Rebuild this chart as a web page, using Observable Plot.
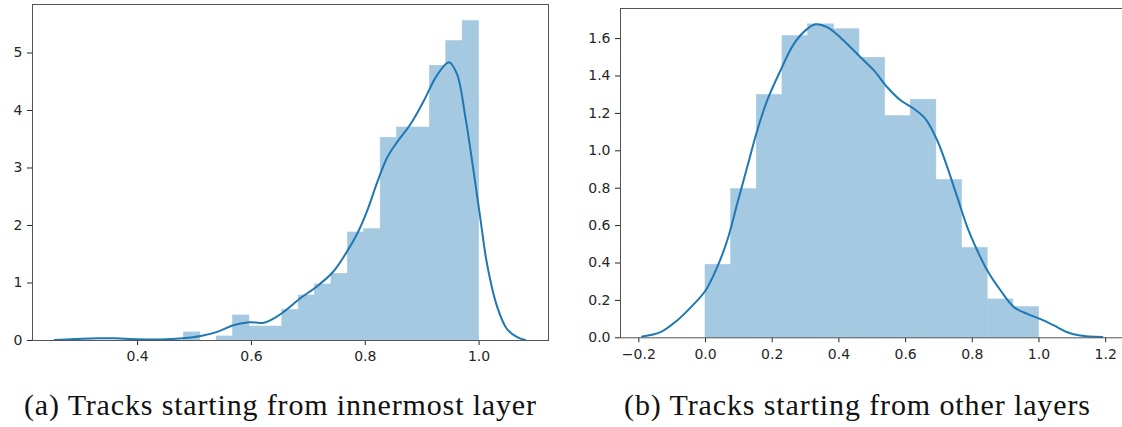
<!DOCTYPE html>
<html>
<head>
<meta charset="utf-8">
<script src="https://cdn.jsdelivr.net/npm/d3@7"></script>
<script src="https://cdn.jsdelivr.net/npm/@observablehq/plot@0.6"></script>
<style>
  html, body { margin: 0; padding: 0; background: #fff; }
  #page { position: relative; width: 1122px; height: 427px; overflow: hidden; background: #fff; }
  #page > svg { position: absolute; top: 0; }
  .caption { font-family: "Liberation Serif", "DejaVu Serif", serif; font-size: 30px; fill: #111; }
</style>
</head>
<body>
<div id="page"></div>
<script>
// (a) tracks from the innermost layer: histogram bin edges and densities
const innerEdges = [0.4812, 0.5100, 0.5389, 0.5677, 0.5965, 0.6253, 0.6542, 0.6830, 0.7118, 0.7406,
                    0.7694, 0.7983, 0.8271, 0.8559, 0.8847, 0.9135, 0.9424, 0.9712, 1.0];
const innerDensity = [0.14, 0, 0.07, 0.435, 0.243, 0.243, 0.533, 0.783, 0.974, 1.159,
                      1.878, 1.936, 3.525, 3.704, 3.704, 4.777, 5.206, 5.554];
// kernel density estimate for (a)
const innerKdeX = [0.254, 0.29, 0.33, 0.36, 0.40, 0.44, 0.48, 0.511, 0.54, 0.5695, 0.593, 0.622, 0.637, 0.657,
                   0.6865, 0.715, 0.744, 0.77, 0.786, 0.8035, 0.821, 0.839, 0.856, 0.88, 0.903, 0.926,
                   0.947, 0.961, 0.976, 0.991, 1.002, 1.014, 1.032, 1.049, 1.067, 1.081];
const innerKdeY = [0.01, 0.025, 0.04, 0.038, 0.02, 0.017, 0.04, 0.08, 0.15, 0.27, 0.315, 0.31, 0.37, 0.5,
                   0.74, 0.94, 1.2, 1.58, 1.86, 2.26, 2.75, 3.19, 3.45, 3.77, 4.17, 4.61,
                   4.84, 4.64, 3.88, 2.90, 2.14, 1.33, 0.58, 0.20, 0.06, 0.01];

// (b) tracks from the other layers: histogram bin edges and densities
const otherEdges = [0, 0.0769, 0.1538, 0.2308, 0.3077, 0.3846, 0.4615, 0.5385, 0.6154, 0.6923,
                    0.7692, 0.8462, 0.9231, 1.0];
const otherDensity = [0.39, 0.795, 1.298, 1.613, 1.676, 1.65, 1.497, 1.185, 1.273, 0.843, 0.48, 0.205, 0.164];
// kernel density estimate for (b)
const otherKdeX = [-0.19, -0.135, -0.085, -0.035, 0.0, 0.035, 0.065, 0.095, 0.125, 0.155, 0.185, 0.225,
                   0.265, 0.305, 0.33, 0.365, 0.405, 0.465, 0.505, 0.545, 0.585, 0.625, 0.66, 0.695,
                   0.725, 0.755, 0.785, 0.815, 0.845, 0.885, 0.925, 0.965, 1.005, 1.045, 1.085, 1.124, 1.19];
const otherKdeY = [0.007, 0.03, 0.093, 0.18, 0.253, 0.378, 0.52, 0.717, 0.913, 1.109, 1.27, 1.43,
                   1.572, 1.652, 1.677, 1.661, 1.605, 1.50, 1.43, 1.34, 1.27, 1.225, 1.17, 1.055,
                   0.913, 0.752, 0.592, 0.467, 0.36, 0.253, 0.164, 0.128, 0.10, 0.066, 0.03, 0.012, 0.004];

// tick values
const innerXTicks = [0.4, 0.6, 0.8, 1.0];
const innerYTicks = [0, 1, 2, 3, 4, 5];
const otherXTicks = [-0.2, 0.0, 0.2, 0.4, 0.6, 0.8, 1.0, 1.2];
const otherYTicks = [0.0, 0.2, 0.4, 0.6, 0.8, 1.0, 1.2, 1.4, 1.6];

const captions = ["(a) Tracks starting from innermost layer", "(b) Tracks starting from other layers"];

const barFill = "#a5c9e1";
const lineColor = "#1f77b4";

function bins(edges, density) {
  return density.map((d, i) => ({x1: edges[i], x2: edges[i + 1], y: d}));
}
function curve(xs, ys) {
  return xs.map((x, i) => ({x, y: ys[i]}));
}

function panel({edges, density, kx, ky, xDomain, yDomain, xTicks, yTicks, yFormat,
                width, height, margins}) {
  return Plot.plot({
    width, height,
    marginLeft: margins[0], marginRight: margins[1], marginTop: margins[2], marginBottom: margins[3],
    style: {fontFamily: "DejaVu Sans, sans-serif", fontSize: "14px", color: "#262626", background: "transparent", overflow: "visible"},
    x: {domain: xDomain, ticks: xTicks, tickFormat: d3.format(".1f"), tickSize: 5, tickPadding: 6, label: null},
    y: {domain: yDomain, ticks: yTicks, tickFormat: yFormat, tickSize: 5, tickPadding: 5, label: null},
    marks: [
      Plot.rectY(bins(edges, density), {x1: "x1", x2: "x2", y: "y", fill: barFill, stroke: barFill, strokeWidth: 0.6, inset: 0}),
      Plot.line(curve(kx, ky), {x: "x", y: "y", stroke: lineColor, strokeWidth: 2, curve: "catmull-rom"}),
      Plot.frame({stroke: "#555", strokeWidth: 1})
    ]
  });
}

const page = document.getElementById("page");

const left = panel({
  edges: innerEdges, density: innerDensity, kx: innerKdeX, ky: innerKdeY,
  xDomain: [0.2153, 1.122], yDomain: [0, 5.843], xTicks: innerXTicks, yTicks: innerYTicks,
  yFormat: d3.format("d"), width: 560, height: 370, margins: [32, 12, 4, 30]
});
left.style.left = "0px";
page.appendChild(left);

// the right-hand frame edge of panel (b) falls just outside the page
const right = panel({
  edges: otherEdges, density: otherDensity, kx: otherKdeX, ky: otherKdeY,
  xDomain: [-0.255, 1.2595], yDomain: [0, 1.761], xTicks: otherXTicks, yTicks: otherYTicks,
  yFormat: d3.format(".1f"), width: 565, height: 370, margins: [60, 0, 8, 32.7]
});
right.style.left = "560px";
page.appendChild(right);

// captions below the two panels
const cap = d3.select(page).append("svg")
  .attr("width", 1122).attr("height", 427)
  .style("left", "0px");
cap.selectAll("text").data(captions).join("text")
  .attr("class", "caption")
  .attr("x", (d, i) => i === 0 ? 280 : 857)
  .attr("y", 415)
  .attr("text-anchor", "middle")
  .attr("textLength", (d, i) => i === 0 ? 512 : 466)
  .attr("lengthAdjust", "spacing")
  .text(d => d);
</script>
</body>
</html>
